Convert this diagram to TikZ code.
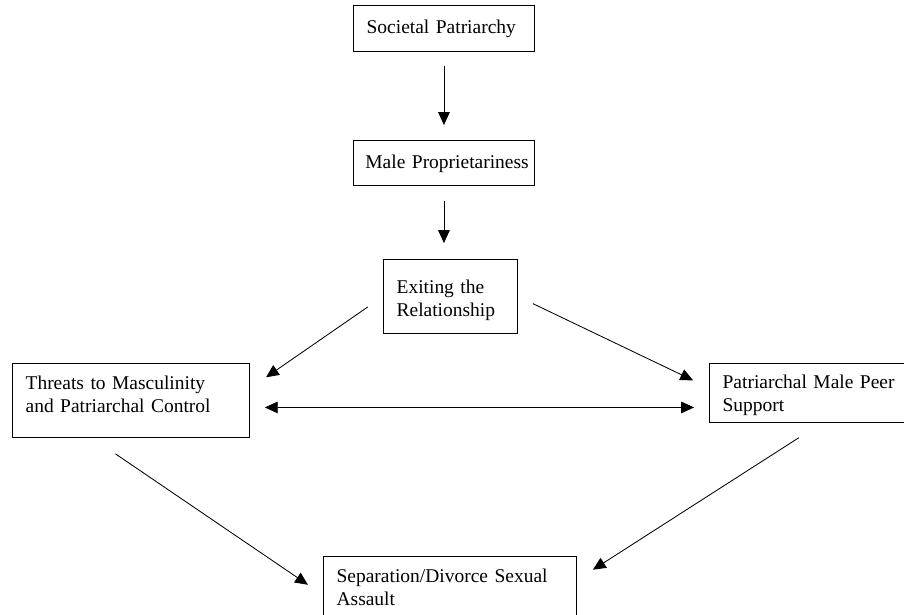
\documentclass[tikz,border=0pt]{standalone}
\usepackage{fontspec}
\setmainfont{Liberation Serif}
\usetikzlibrary{arrows.meta,calc}

\begin{document}
\begin{tikzpicture}[x=0.025cm, y=-0.025cm,
  box/.style={draw, line width=0.6pt, anchor=north west, align=left,
              inner xsep=0.33cm, inner ysep=0pt,
              font=\fontsize{13.85}{16.3}\selectfont},
  arrow/.style={draw, line width=0.6pt, -{Triangle[length=3.2mm, width=2.9mm]}}
]
\useasboundingbox (0,0) rectangle (904,614);

% Boxes
\node[box, text width=3.865cm, text height=0.7cm, text depth=0.45cm] (soc) at (353,5) {\mbox{Societal Patriarchy}};
\node[box, inner xsep=0.3cm, text width=3.925cm, text height=0.7cm, text depth=0.425cm] (prop) at (353,140) {\mbox{Male Proprietariness}};
\node[box, text width=2.69cm, text height=0.85cm, text depth=1.0cm] (exit) at (383,259) {Exiting the\\Relationship};
\node[box, text width=5.265cm, text height=0.65cm, text depth=1.2cm] (threat) at (12,363) {Threats to Masculinity\\and Patriarchal Control};
\node[box, text width=4.84cm, text height=0.625cm, text depth=0.85cm] (peer) at (709,363) {Patriarchal Male Peer\\Support};
\node[box, text width=5.665cm, text height=0.65cm, text depth=2cm] (sep) at (323,556) {Separation/Divorce Sexual\\Assault};

% Arrows
\draw[arrow, shorten <=0.35cm, shorten >=0.375cm] (soc.south) -- (prop.north);
\draw[arrow, shorten <=0.375cm, shorten >=0.4cm] (prop.south) -- (prop.south |- exit.north);
\draw[arrow, shorten <=0.46cm, shorten >=0.49cm] (exit.west) -- ($(threat.east)+(0,-12)$);
\draw[arrow, shorten <=0.415cm, shorten >=0.44cm] (exit.east) -- ($(peer.west)+(0,-5)$);
\draw[arrow, {Triangle[length=3.2mm, width=2.9mm]}-{Triangle[length=3.2mm, width=2.9mm]},
      shorten <=0.375cm, shorten >=0.375cm] ($(threat.east)+(0,7)$) -- ($(peer.west)+(0,14.5)$);
\draw[arrow, shorten <=0.71cm, shorten >=0.455cm] ($(threat.south)+(-39,0)$) -- ($(sep.north west)+(0,39)$);
\draw[arrow, shorten <=0.69cm, shorten >=0.475cm] ($(peer.south west)+(113,0)$) -- ($(sep.north east)+(0,24)$);

\end{tikzpicture}
\end{document}
